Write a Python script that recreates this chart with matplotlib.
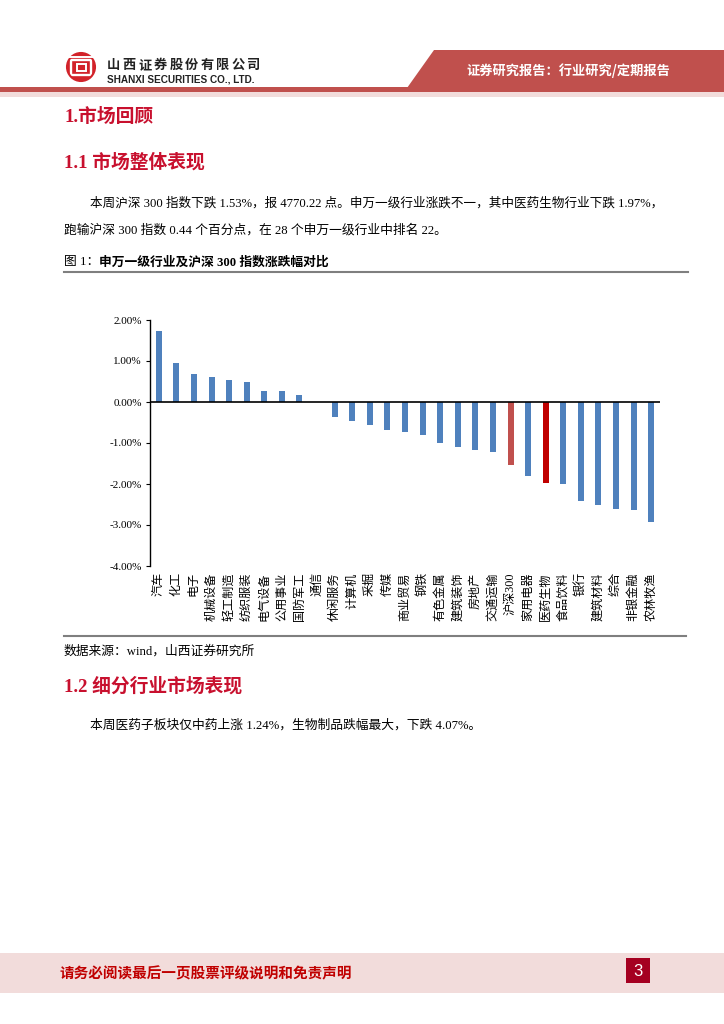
import matplotlib
matplotlib.use("Agg")
import matplotlib.pyplot as plt
from matplotlib.patches import Rectangle, Polygon, Circle
from matplotlib.ticker import FuncFormatter

# 申万一级行业及沪深300 周涨跌幅 (%)
industries = ['汽车', '化工', '电子', '机械设备', '轻工制造', '纺织服装', '电气设备', '公用事业',
              '国防军工', '通信', '休闲服务', '计算机', '采掘', '传媒', '商业贸易', '钢铁',
              '有色金属', '建筑装饰', '房地产', '交通运输', '沪深300', '家用电器', '医药生物',
              '食品饮料', '银行', '建筑材料', '综合', '非银金融', '农林牧渔']
changes = [1.74, 0.94, 0.69, 0.61, 0.53, 0.50, 0.28, 0.26, 0.16, 0.00, -0.37, -0.46, -0.57,
           -0.68, -0.72, -0.81, -0.99, -1.10, -1.17, -1.23, -1.53, -1.80, -1.97, -1.99,
           -2.42, -2.50, -2.62, -2.64, -2.92]
y_ticks = [-4, -3, -2, -1, 0, 1, 2]

SERIF = ['Liberation Serif', 'Noto Sans CJK SC']
SANS = ['Noto Sans CJK SC', 'DejaVu Sans']
RED_HEAD = '#C8102E'

W, H = 724, 1024
fig = plt.figure(figsize=(W / 100, H / 100), dpi=100)

# page layer in pixel coordinates
bg = fig.add_axes([0, 0, 1, 1])
bg.set_xlim(0, W)
bg.set_ylim(H, 0)
bg.axis('off')

# ---- header ----
bg.add_patch(Polygon([(434, 50), (W, 50), (W, 88), (407, 88)], closed=True, color='#C0504D', lw=0))
bg.add_patch(Rectangle((0, 87), W, 5, color='#C0504D', lw=0))
bg.add_patch(Rectangle((0, 92), W, 5, color='#F2DCDB', lw=0))
bg.text(568, 71, '证券研究报告：行业研究/定期报告', ha='center', va='center', color='white',
        fontsize=9.5, fontweight='bold', family=SANS)

# logo
bg.add_patch(Circle((81, 67), 14, color='#D2232A', lw=0))
bg.add_patch(Rectangle((71, 60), 20, 15, fill=False, ec='white', lw=1.7))
bg.add_patch(Rectangle((76.5, 64), 9, 7, fill=False, ec='white', lw=1.4))
bg.plot([66, 96], [57, 57], color='white', lw=1.4)
bg.add_patch(Circle((81, 67), 14, fill=False, ec='#D2232A', lw=1.5))

company = '山西证券股份有限公司'
for i, ch in enumerate(company):
    bg.text(107 + i * 15.6, 65, ch, ha='left', va='center', fontsize=9.5, fontweight='bold',
            color='#222222', family=SANS)
bg.text(107, 79.5, 'SHANXI SECURITIES CO., LTD.', ha='left', va='center', fontsize=7.2,
        fontweight='bold', color='#222222', family=['Liberation Sans'])

# ---- body text ----
bg.text(64, 117, '1.市场回顾', ha='left', va='center', fontsize=13.5, fontweight='bold',
        color=RED_HEAD, family=SERIF)
bg.text(64, 162, '1.1 市场整体表现', ha='left', va='center', fontsize=13.5, fontweight='bold',
        color=RED_HEAD, family=SERIF)
bg.text(90, 203, '本周沪深 300 指数下跌 1.53%，报 4770.22 点。申万一级行业涨跌不一，其中医药生物行业下跌 1.97%，',
        ha='left', va='center', fontsize=9.05, color='black', family=SERIF)
bg.text(64, 230, '跑输沪深 300 指数 0.44 个百分点，在 28 个申万一级行业中排名 22。',
        ha='left', va='center', fontsize=9.2, color='black', family=SERIF)

# figure caption: number regular, title in heavier weight
cap1 = bg.text(64, 262, '图 1：', ha='left', va='center', fontsize=9.2,
               color='black', family=SERIF)
renderer = fig.canvas.get_renderer()
cap_end = cap1.get_window_extent(renderer).x1
bg.text(cap_end, 262, '申万一级行业及沪深 300 指数涨跌幅对比', ha='left', va='center',
        fontsize=9.2, color='black', family=SERIF, fontweight='bold')

bg.plot([64, 688], [272, 272], color='#7F7F7F', lw=1.5)
bg.plot([64, 686], [636, 636], color='#7F7F7F', lw=1.5)
bg.text(64, 651, '数据来源：wind，山西证券研究所', ha='left', va='center', fontsize=9.2,
        color='black', family=SERIF)
bg.text(64, 686, '1.2 细分行业市场表现', ha='left', va='center', fontsize=13.5, fontweight='bold',
        color=RED_HEAD, family=SERIF)
bg.text(90, 725, '本周医药子板块仅中药上涨 1.24%，生物制品跌幅最大，下跌 4.07%。',
        ha='left', va='center', fontsize=9.2, color='black', family=SERIF)

# ---- footer ----
bg.add_patch(Rectangle((0, 953), W, 40, color='#F2DCDB', lw=0))
bg.text(60, 973, '请务必阅读最后一页股票评级说明和免责声明', ha='left', va='center', fontsize=10.5,
        fontweight='bold', color='#C00000', family=SANS)
bg.add_patch(Rectangle((626, 958), 24, 25, color='#A50021', lw=0))
bg.text(638, 971, '3', ha='center', va='center', fontsize=12, color='white',
        family=['Liberation Sans Narrow', 'Liberation Sans'])

# ---- chart ----
ax = fig.add_axes([150 / W, 1 - 566 / H, 510 / W, 246 / H])
ax.patch.set_alpha(0)
colors = []
for name in industries:
    if name == '沪深300':
        colors.append('#C0504D')
    elif name == '医药生物':
        colors.append('#C00000')
    else:
        colors.append('#4F81BD')
x = list(range(len(industries)))
ax.bar(x, changes, width=0.34, color=colors, zorder=2)
ax.axhline(0, color='black', lw=1.2, zorder=3)
ax.set_xlim(-0.5, len(industries) - 0.5)
ax.set_ylim(-4, 2)
ax.set_yticks(y_ticks)
ax.yaxis.set_major_formatter(FuncFormatter(lambda v, p: f'{v:.2f}%'))
for s in ['top', 'right', 'bottom']:
    ax.spines[s].set_visible(False)
ax.spines['left'].set_color('black')
ax.spines['left'].set_linewidth(1.0)
ax.tick_params(axis='y', direction='out', length=3, width=0.8, pad=3, labelsize=8, colors='black')
for lab in ax.get_yticklabels():
    lab.set_family(['Liberation Serif'])
ax.set_xticks(x)
ax.set_xticklabels(industries, rotation=90, ha='center', va='top', fontsize=8.7, family=SERIF)
ax.tick_params(axis='x', length=0, pad=4.5)

fig.savefig('out.png', dpi=100)
